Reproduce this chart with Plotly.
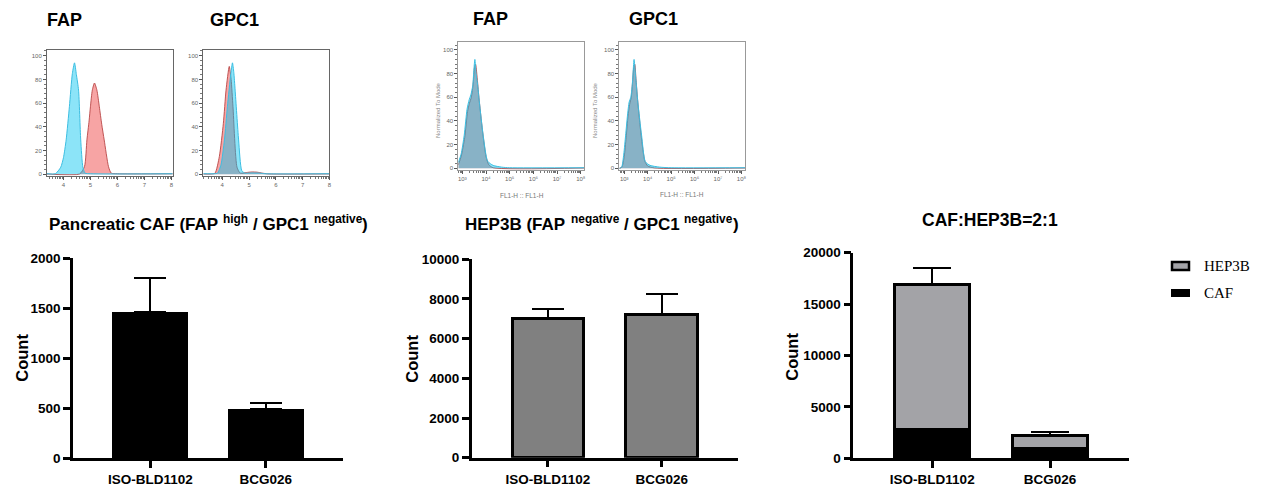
import numpy as np
import plotly.graph_objects as go

W, H = 1261, 495

# ---------------- data ----------------
categories = ["ISO-BLD1102", "BCG026"]

caf_mean = [1460, 493]
caf_err = [340, 57]

hep3b_mean = [7030, 7240]
hep3b_err = [450, 1010]

mix_caf = [2820, 970]
mix_caf_err = [90, 160]
mix_hep3b = [14080, 1230]
mix_hep3b_err = [1580, 330]

# flow histograms: x = log fluorescence, y = % of max
h1_cyan_x = [3.39, 3.7, 3.9, 4.0, 4.1, 4.22, 4.33, 4.41, 4.48, 4.56, 4.64, 4.72, 4.8, 5.0, 8.05]
h1_cyan_y = [0.5, 0.5, 6, 14, 29, 57, 85, 94, 84, 71, 29, 6, 1, 0.5, 0.5]
h1_red_x = [3.39, 4.6, 4.78, 4.87, 4.95, 5.0, 5.07, 5.15, 5.24, 5.33, 5.42, 5.51, 5.67, 5.77, 6.0, 8.05]
h1_red_y = [0.3, 0.3, 6.5, 29, 45, 57, 71, 77, 71, 57, 42, 29, 6.5, 1, 0.5, 0.5]

h2_red_x = [3.29, 3.6, 3.73, 3.89, 4.04, 4.14, 4.26, 4.33, 4.40, 4.55, 4.67, 4.9, 5.1, 5.3, 5.5, 5.7, 8.0]
h2_red_y = [0.3, 0.3, 1, 15, 43, 71, 91, 80, 57, 6, 1, 1.5, 2, 1.8, 1, 0.4, 0.4]
h2_cyan_x = [3.29, 3.7, 3.82, 3.95, 4.08, 4.19, 4.32, 4.38, 4.43, 4.48, 4.61, 4.73, 4.85, 5.1, 5.4, 5.6, 8.0]
h2_cyan_y = [0.5, 0.5, 1, 8, 29, 57, 85, 94, 86, 71, 29, 3, 1, 1.2, 1, 0.5, 0.5]

h3_red_x = [2.83, 2.95, 3.1, 3.22, 3.3, 3.38, 3.46, 3.52, 3.56, 3.62, 3.7, 3.85, 4.0, 4.12, 4.3, 8.15]
h3_red_y = [3, 10, 26, 48, 55, 60, 72, 86, 88, 78, 60, 32, 10, 3, 0.5, 0.3]
h3_cyan_x = [2.83, 2.95, 3.08, 3.2, 3.29, 3.36, 3.44, 3.49, 3.53, 3.58, 3.65, 3.72, 3.88, 4.07, 4.3, 4.66, 5.0, 8.15]
h3_cyan_y = [5, 12, 28, 50, 58, 62, 70, 84, 92, 80, 70, 56, 28, 6, 2.5, 1, 0.5, 0.5]

h4_red_x = [2.79, 2.9, 3.0, 3.08, 3.16, 3.23, 3.3, 3.36, 3.41, 3.45, 3.5, 3.57, 3.72, 3.88, 4.0, 4.3, 8.15]
h4_red_y = [0, 1, 10, 26, 44, 54, 60, 74, 86, 88, 76, 58, 28, 6, 2, 0.3, 0.3]
h4_cyan_x = [2.79, 2.89, 2.98, 3.06, 3.14, 3.21, 3.28, 3.34, 3.38, 3.42, 3.46, 3.52, 3.58, 3.74, 3.9, 4.1, 4.51, 5.0, 8.15]
h4_cyan_y = [0, 1, 12, 28, 45, 56, 60, 70, 82, 92, 84, 70, 56, 28, 5.6, 2.5, 1, 0.5, 0.5]

lin_ticks = [4, 5, 6, 7, 8]
log_ticks = [3, 4, 5, 6, 7, 8]
log_ticktext = ["10³", "10⁴", "10⁵", "10⁶", "10⁷", "10⁸"]
pct_ticks = [0, 20, 40, 60, 80, 100]

caf_yticks = [0, 500, 1000, 1500, 2000]
hep3b_yticks = [0, 2000, 4000, 6000, 8000, 10000]
mix_yticks = [0, 5000, 10000, 15000, 20000]

# ---------------- helpers ----------------
def fx(px):
    return px / W

def fy(py):
    return 1 - py / H

SANS = "Liberation Sans, Arial, sans-serif"
SERIF = "Liberation Serif, Times New Roman, serif"

RED_FILL = "rgba(240,90,90,0.55)"
RED_LINE = "rgba(185,70,70,0.9)"
CY_FILL = "rgba(0,195,240,0.45)"
CY_LINE = "rgb(60,190,225)"

fig = go.Figure()

hist_sets = [
    (1, [(h1_red_x, h1_red_y, "red"), (h1_cyan_x, h1_cyan_y, "cyan")]),
    (2, [(h2_red_x, h2_red_y, "red"), (h2_cyan_x, h2_cyan_y, "cyan")]),
    (3, [(h3_red_x, h3_red_y, "red"), (h3_cyan_x, h3_cyan_y, "cyan")]),
    (4, [(h4_red_x, h4_red_y, "red"), (h4_cyan_x, h4_cyan_y, "cyan")]),
]
for idx, curves in hist_sets:
    sfx = "" if idx == 1 else str(idx)
    for xs, ys, col in curves:
        fig.add_trace(go.Scatter(
            x=xs, y=ys, mode="lines", fill="tozeroy",
            line=dict(color=RED_LINE if col == "red" else CY_LINE, width=1,
                      shape="spline", smoothing=0.6),
            fillcolor=RED_FILL if col == "red" else CY_FILL,
            xaxis="x" + sfx, yaxis="y" + sfx, showlegend=False, hoverinfo="skip"))

# ---------------- bar panels ----------------
fig.add_trace(go.Bar(
    x=categories, y=caf_mean, width=0.66,
    marker=dict(color="black", line=dict(width=0)),
    error_y=dict(type="data", array=caf_err, arrayminus=[0, 0], symmetric=False,
                 color="black", thickness=2, width=16),
    xaxis="x5", yaxis="y5", showlegend=False))

fig.add_trace(go.Bar(
    x=categories, y=hep3b_mean, width=0.63,
    marker=dict(color="#808080", line=dict(color="black", width=3)),
    error_y=dict(type="data", array=hep3b_err, arrayminus=[0, 0], symmetric=False,
                 color="black", thickness=2, width=16),
    xaxis="x6", yaxis="y6", showlegend=False))

fig.add_trace(go.Bar(
    x=categories, y=mix_caf, width=0.64, name="CAF",
    marker=dict(color="black", line=dict(color="black", width=3)),
    error_y=dict(type="data", array=mix_caf_err, arrayminus=[0, 0], symmetric=False,
                 color="black", thickness=2, width=19),
    xaxis="x7", yaxis="y7", showlegend=False))
fig.add_trace(go.Bar(
    x=categories, y=mix_hep3b, width=0.64, name="HEP3B",
    marker=dict(color="#a3a3a7", line=dict(color="black", width=3)),
    error_y=dict(type="data", array=mix_hep3b_err, arrayminus=[0, 0], symmetric=False,
                 color="black", thickness=2, width=19),
    xaxis="x7", yaxis="y7", showlegend=False))

# ---------------- axes ----------------
small_tick = dict(family=SANS, size=6, color="#666")

def hist_axes(xdom, ydom, xr, yr, xticks, xtext, anchor_suffix):
    xa = dict(domain=xdom, range=xr, tickvals=xticks, ticktext=xtext,
              tickfont=small_tick, ticks="outside", ticklen=3, tickwidth=1,
              tickcolor="#555", showline=True, mirror=True, linecolor="#666",
              linewidth=1, showgrid=False, zeroline=False, automargin=False,
              anchor="y" + anchor_suffix, fixedrange=True)
    ya = dict(domain=ydom, range=yr, tickvals=pct_ticks,
              ticktext=[str(t) for t in pct_ticks],
              tickfont=small_tick, ticks="outside", ticklen=3, tickwidth=1,
              tickcolor="#555", showline=True, mirror=True, linecolor="#666",
              linewidth=1, showgrid=False, zeroline=False, automargin=False,
              minor=dict(dtick=4, ticklen=2, ticks="outside", tickcolor="#777"),
              anchor="x" + anchor_suffix, fixedrange=True)
    return xa, ya

def log_minor(lo, hi):
    vals = []
    for d in range(int(np.floor(lo)), int(np.ceil(hi)) + 1):
        for k in range(2, 10):
            v = d + np.log10(k)
            if lo < v < hi:
                vals.append(float(v))
    return vals

h_y_top = [fy(175.5), fy(49.8)]
h_y_bot = [fy(170.1), fy(41.7)]

xa1, ya1 = hist_axes([fx(47), fx(172.7)], h_y_top, [3.39, 8.05], [-1, 105],
                     lin_ticks, [str(t) for t in lin_ticks], "")
xa2, ya2 = hist_axes([fx(203.3), fx(329.3)], h_y_top, [3.29, 8.0], [-1, 105],
                     lin_ticks, [str(t) for t in lin_ticks], "2")
xa3, ya3 = hist_axes([fx(458.3), fx(584.3)], h_y_bot, [2.83, 8.15], [-1.5, 107],
                     log_ticks, log_ticktext, "3")
xa4, ya4 = hist_axes([fx(619.3), fx(745)], h_y_bot, [2.79, 8.15], [-1.5, 107],
                     log_ticks, log_ticktext, "4")
xa1["minor"] = dict(tickvals=log_minor(3.39, 8.05), ticklen=2, ticks="outside", tickcolor="#777")
xa2["minor"] = dict(tickvals=log_minor(3.29, 8.0), ticklen=2, ticks="outside", tickcolor="#777")
xa3["minor"] = dict(tickvals=log_minor(2.83, 8.15), ticklen=2, ticks="outside", tickcolor="#777")
xa4["minor"] = dict(tickvals=log_minor(2.79, 8.15), ticklen=2, ticks="outside", tickcolor="#777")
for a in (xa3, xa4, ya3, ya4):
    a["linecolor"] = "#999"

bold_tick = dict(family=SANS, size=13.5, color="black", weight="bold")

def bar_axes(xdom, ydom, yticks, sfx):
    xa = dict(domain=xdom, range=[-0.67, 1.67], type="category",
              showline=True, linecolor="black", linewidth=2.5,
              ticks="outside", ticklen=7, tickwidth=2.5, tickcolor="black",
              tickfont=bold_tick, showgrid=False, zeroline=False, automargin=False,
              anchor="y" + sfx, fixedrange=True)
    ya = dict(domain=ydom, range=[0, yticks[-1]], tickvals=yticks,
              ticktext=[str(t) for t in yticks],
              showline=True, linecolor="black", linewidth=2.5,
              ticks="outside", ticklen=7, tickwidth=2.5, tickcolor="black",
              tickfont=bold_tick, showgrid=False, zeroline=False, automargin=False,
              anchor="x" + sfx, fixedrange=True)
    return xa, ya

xa5, ya5 = bar_axes([fx(73), fx(343)], [fy(458.3), fy(258.3)], caf_yticks, "5")
xa6, ya6 = bar_axes([fx(471.7), fx(738)], [fy(457.7), fy(259.3)], hep3b_yticks, "6")
xa7, ya7 = bar_axes([fx(853.3), fx(1129)], [fy(458.3), fy(252.7)], mix_yticks, "7")

# ---------------- annotations ----------------
ann = []

def text(px, py, s, size, bold=False, family=SANS, color="black", angle=0,
         xanchor="center", yanchor="middle"):
    ann.append(dict(x=fx(px), y=fy(py), xref="paper", yref="paper", text=s,
                    showarrow=False, textangle=angle, xanchor=xanchor, yanchor=yanchor,
                    font=dict(family=family, size=size, color=color,
                              weight="bold" if bold else "normal")))

for px, py, s in [(64, 20, "FAP"), (234, 20, "GPC1"), (490, 18.5, "FAP"), (653, 18.5, "GPC1")]:
    text(px, py, s, 18, bold=True)

# titles with raised small words, laid out piece by piece
TS, SS = 17, 11.9
TY, SY = 224, 219
for px, s, sup in [(46.5, "Pancreatic CAF (FAP", False), (221.3, "high", True),
                   (246.4, "/ GPC1", False), (311.6, "negative", True), (359.9, ")", False)]:
    text(px + (0 if sup or px == 46.5 or s == ")" else 4.7), SY if sup else TY, s,
         SS if sup else TS, bold=True, xanchor="left")
for px, s, sup in [(463, "HEP3B (FAP", False), (568.8, "negative", True),
                   (617.1, "/ GPC1", False), (682.3, "negative", True), (730.6, ")", False)]:
    text(px + (4.7 if s == "/ GPC1" else 0), SY if sup else TY, s,
         SS if sup else TS, bold=True, xanchor="left")
text(990, 220, "CAF:HEP3B=2:1", 17.5, bold=True)

text(21.7, 358, "Count", 16.5, bold=True, angle=-90)
text(411.7, 359, "Count", 16.5, bold=True, angle=-90)
text(791.7, 357, "Count", 16.5, bold=True, angle=-90)

text(521.7, 195, "FL1-H :: FL1-H", 6.5, color="#777")
text(681.7, 194.5, "FL1-H :: FL1-H", 6.5, color="#777")
text(438, 110, "Normalized To Mode", 6, color="#888", angle=-90)
text(595, 110, "Normalized To Mode", 6, color="#888", angle=-90)

# legend (panel 3)
text(1201.5, 266, "HEP3B", 15, family=SERIF, xanchor="left")
text(1201.5, 293, "CAF", 15, family=SERIF, xanchor="left")
shapes = [
    dict(type="rect", xref="paper", yref="paper", x0=fx(1172), x1=fx(1189),
         y0=fy(270), y1=fy(262), fillcolor="#a3a3a7", line=dict(color="black", width=2.5)),
    dict(type="rect", xref="paper", yref="paper", x0=fx(1171), x1=fx(1190),
         y0=fy(297), y1=fy(289), fillcolor="black", line=dict(color="black", width=0)),
]

fig.update_layout(
    width=W, height=H, margin=dict(l=0, r=0, t=0, b=0, pad=0, autoexpand=False),
    paper_bgcolor="white", plot_bgcolor="white",
    barmode="stack", showlegend=False,
    xaxis=xa1, yaxis=ya1, xaxis2=xa2, yaxis2=ya2,
    xaxis3=xa3, yaxis3=ya3, xaxis4=xa4, yaxis4=ya4,
    xaxis5=xa5, yaxis5=ya5, xaxis6=xa6, yaxis6=ya6,
    xaxis7=xa7, yaxis7=ya7,
    annotations=ann, shapes=shapes,
    font=dict(family=SANS),
)

fig.write_html("out.html", config={"displayModeBar": False},
               post_script="document.body.style.margin='0';document.body.style.overflow='hidden';")
